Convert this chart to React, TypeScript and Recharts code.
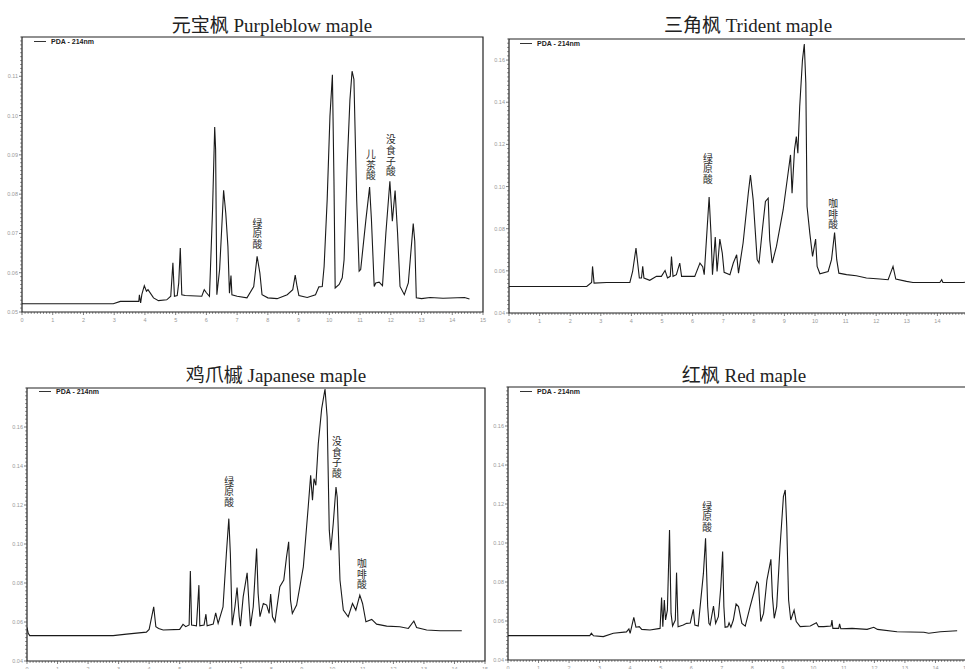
import { LineChart, Line, XAxis, YAxis, ReferenceArea, ReferenceDot, Legend } from "recharts";

// retention time (min), absorbance (AU)
const purpleblow = [
  [0, 0.0521], [2.97, 0.0521], [3.2, 0.0527], [3.8, 0.0527], [3.82, 0.0544], [3.86, 0.0523], [3.9, 0.0545],
  [3.98, 0.0567], [4.05, 0.0553], [4.1, 0.0557], [4.28, 0.0536], [4.44, 0.0529], [4.71, 0.0531], [4.84, 0.054],
  [4.91, 0.0625], [4.96, 0.054], [5.05, 0.0542], [5.1, 0.0574], [5.15, 0.0663], [5.2, 0.0544], [5.31, 0.0542],
  [5.85, 0.054], [5.93, 0.0557], [6.0, 0.0549], [6.1, 0.054], [6.2, 0.076], [6.27, 0.0971], [6.3, 0.0913],
  [6.34, 0.0544], [6.43, 0.0608], [6.49, 0.07], [6.56, 0.081], [6.63, 0.0752], [6.7, 0.0667], [6.75, 0.0548],
  [6.8, 0.0593], [6.83, 0.0544], [7.0, 0.054], [7.32, 0.0536], [7.54, 0.0565], [7.65, 0.0642], [7.74, 0.0599],
  [7.81, 0.0544], [8.0, 0.0536], [8.3, 0.0534], [8.63, 0.0544], [8.81, 0.0557], [8.89, 0.0594], [8.95, 0.0565],
  [9.01, 0.0542], [9.28, 0.0537], [9.55, 0.0544], [9.66, 0.0564], [9.77, 0.0565], [9.83, 0.0616], [9.93, 0.0786],
  [10.02, 0.0998], [10.1, 0.1104], [10.15, 0.0837], [10.19, 0.0561], [10.32, 0.057], [10.42, 0.0587],
  [10.48, 0.0633], [10.58, 0.0871], [10.67, 0.104], [10.74, 0.1113], [10.8, 0.1092], [10.89, 0.0786],
  [10.97, 0.0604], [11.02, 0.0608], [11.19, 0.0735], [11.31, 0.0818], [11.37, 0.0735], [11.46, 0.0565],
  [11.51, 0.0574], [11.62, 0.0576], [11.73, 0.0567], [11.84, 0.0701], [11.97, 0.0833], [12.05, 0.0731],
  [12.14, 0.0809], [12.22, 0.0701], [12.3, 0.0565], [12.44, 0.0544], [12.57, 0.0574], [12.73, 0.0725],
  [12.78, 0.068], [12.83, 0.0536], [13.0, 0.0534], [13.28, 0.0537], [13.7, 0.0535], [14.4, 0.0537], [14.56, 0.0533],
];

const trident = [
  [0, 0.0526], [2.54, 0.0526], [2.7, 0.0545], [2.73, 0.0621], [2.78, 0.0542], [3.19, 0.0545], [3.95, 0.0545],
  [4.04, 0.0597], [4.15, 0.0708], [4.26, 0.0566], [4.33, 0.0566], [4.37, 0.0621], [4.41, 0.0566], [4.6, 0.0555],
  [4.82, 0.0574], [4.98, 0.0574], [5.1, 0.0602], [5.18, 0.0566], [5.27, 0.0574], [5.31, 0.0668], [5.36, 0.0574],
  [5.47, 0.0582], [5.58, 0.0637], [5.64, 0.0574], [5.91, 0.0574], [6.07, 0.0574], [6.24, 0.0637], [6.33, 0.062],
  [6.38, 0.0582], [6.54, 0.095], [6.6, 0.0779], [6.65, 0.0582], [6.74, 0.076], [6.8, 0.0597], [6.89, 0.0751],
  [6.97, 0.0684], [7.03, 0.0593], [7.22, 0.0582], [7.33, 0.0637], [7.44, 0.0676], [7.5, 0.0589], [7.65, 0.0732],
  [7.82, 0.0968], [7.89, 0.1055], [7.98, 0.0937], [8.11, 0.0653], [8.17, 0.0637], [8.28, 0.0795], [8.38, 0.0929],
  [8.47, 0.0945], [8.52, 0.0747], [8.6, 0.0637], [8.74, 0.0716], [8.96, 0.089], [9.12, 0.1063], [9.2, 0.115],
  [9.25, 0.0968], [9.33, 0.1174], [9.39, 0.1237], [9.44, 0.1158], [9.5, 0.1379], [9.59, 0.16], [9.65, 0.1676],
  [9.7, 0.149], [9.74, 0.0905], [9.83, 0.0779], [9.92, 0.0668], [10.02, 0.0751], [10.07, 0.0621], [10.16, 0.0586],
  [10.43, 0.0597], [10.54, 0.0653], [10.64, 0.0782], [10.71, 0.0653], [10.78, 0.0589], [11.03, 0.0582],
  [11.35, 0.0577], [11.68, 0.0566], [12.12, 0.0561], [12.39, 0.0558], [12.55, 0.0621], [12.64, 0.0561],
  [12.99, 0.055], [13.2, 0.0545], [14.08, 0.0545], [14.14, 0.0558], [14.18, 0.0545], [14.84, 0.0545], [15, 0.0548],
];

const japanese = [
  [0, 0.0572], [0.04, 0.0542], [0.09, 0.053], [2.82, 0.053], [3.26, 0.0538], [3.91, 0.0548], [4.0, 0.0562],
  [4.15, 0.0678], [4.22, 0.0576], [4.31, 0.0567], [4.46, 0.0559], [5.0, 0.0562], [5.11, 0.0588], [5.2, 0.0576],
  [5.31, 0.0585], [5.35, 0.0862], [5.39, 0.0585], [5.55, 0.058], [5.63, 0.0789], [5.66, 0.058], [5.8, 0.0585],
  [5.86, 0.064], [5.9, 0.058], [6.1, 0.0589], [6.18, 0.0647], [6.26, 0.0593], [6.42, 0.0678], [6.53, 0.0951],
  [6.61, 0.113], [6.66, 0.0951], [6.72, 0.0584], [6.81, 0.0678], [6.88, 0.0777], [6.95, 0.0627], [6.99, 0.0579],
  [7.08, 0.0729], [7.21, 0.0852], [7.27, 0.0695], [7.32, 0.0579], [7.41, 0.0678], [7.52, 0.0977], [7.57, 0.0746],
  [7.63, 0.0627], [7.74, 0.0695], [7.85, 0.0687], [7.93, 0.0644], [7.98, 0.0743], [8.04, 0.0627], [8.12, 0.0601],
  [8.28, 0.0781], [8.41, 0.0815], [8.5, 0.0934], [8.57, 0.1011], [8.63, 0.0712], [8.69, 0.0644], [8.83, 0.0687],
  [9.05, 0.0883], [9.21, 0.119], [9.29, 0.1352], [9.35, 0.1224], [9.4, 0.1335], [9.46, 0.1301], [9.54, 0.1514],
  [9.65, 0.1693], [9.76, 0.1795], [9.83, 0.1651], [9.9, 0.1071], [9.95, 0.0968], [10.03, 0.1105], [10.12, 0.1292],
  [10.16, 0.124], [10.25, 0.0815], [10.36, 0.0661], [10.52, 0.0627], [10.66, 0.0695], [10.77, 0.0661],
  [10.9, 0.0738], [10.99, 0.0695], [11.1, 0.0601], [11.29, 0.0613], [11.45, 0.0589], [11.78, 0.0579],
  [12.21, 0.0576], [12.49, 0.0567], [12.67, 0.0605], [12.76, 0.0572], [13.09, 0.0559], [13.53, 0.0555], [14.24, 0.0555],
];

const red = [
  [0, 0.0525], [2.68, 0.0525], [2.73, 0.0537], [2.8, 0.0524], [3.12, 0.052], [3.45, 0.0537], [3.88, 0.0544],
  [3.96, 0.0559], [4.0, 0.0537], [4.12, 0.0619], [4.19, 0.0568], [4.3, 0.0571], [4.38, 0.0557], [4.65, 0.0554],
  [4.98, 0.0562], [5.03, 0.0721], [5.07, 0.0571], [5.12, 0.0708], [5.16, 0.0605], [5.22, 0.0656], [5.29, 0.1067],
  [5.34, 0.0639], [5.39, 0.0574], [5.48, 0.0605], [5.52, 0.0848], [5.57, 0.0571], [5.74, 0.0579], [5.85, 0.0588],
  [5.97, 0.059], [6.07, 0.066], [6.12, 0.0579], [6.23, 0.0574], [6.4, 0.0844], [6.47, 0.1024], [6.54, 0.0674],
  [6.58, 0.0588], [6.62, 0.0579], [6.73, 0.0677], [6.8, 0.0588], [6.89, 0.0622], [6.97, 0.0776], [7.03, 0.0956],
  [7.07, 0.0674], [7.11, 0.0568], [7.2, 0.0571], [7.24, 0.0591], [7.3, 0.0568], [7.38, 0.0605], [7.47, 0.0687],
  [7.55, 0.0674], [7.66, 0.0588], [7.77, 0.0574], [7.93, 0.0674], [8.06, 0.075], [8.15, 0.0802], [8.2, 0.0793],
  [8.28, 0.0597], [8.37, 0.0639], [8.48, 0.081], [8.61, 0.0916], [8.66, 0.0725], [8.72, 0.0614], [8.8, 0.0674],
  [8.91, 0.0981], [9.02, 0.1238], [9.08, 0.1272], [9.13, 0.1084], [9.19, 0.0708], [9.26, 0.0605], [9.37, 0.0656],
  [9.44, 0.0597], [9.57, 0.0571], [9.9, 0.0574], [10.1, 0.0591], [10.17, 0.0571], [10.34, 0.0571], [10.58, 0.0574],
  [10.61, 0.0605], [10.64, 0.0562], [10.83, 0.0562], [10.86, 0.0585], [10.9, 0.056], [11.27, 0.0562],
  [11.76, 0.0557], [11.98, 0.0568], [12.1, 0.0557], [12.74, 0.0545], [13.62, 0.0542], [13.78, 0.0537],
  [14.16, 0.0545], [14.71, 0.055],
];

const xMajor = [0, 1, 2, 3, 4, 5, 6, 7, 8, 9, 10, 11, 12, 13, 14, 15];
const yMajorPurple = [0.05, 0.06, 0.07, 0.08, 0.09, 0.1, 0.11];
const yMajorOther = [0.04, 0.06, 0.08, 0.1, 0.12, 0.14, 0.16];

// compound labels: [text, time, value at top of the label]
const purpleLabels: [string, number, number][] = [["绿原酸", 7.66, 0.0742], ["儿茶酸", 11.35, 0.0917], ["没食子酸", 12.0, 0.0955]];
const tridentLabels: [string, number, number][] = [["绿原酸", 6.5, 0.1164], ["咖啡酸", 10.59, 0.095]];
const japaneseLabels: [string, number, number][] = [["绿原酸", 6.62, 0.1354], ["没食子酸", 10.15, 0.1559], ["咖啡酸", 10.97, 0.0933]];
const redLabels: [string, number, number][] = [["绿原酸", 6.52, 0.1221]];

const steps = (lo: number, hi: number, step: number) =>
  Array.from({ length: Math.round((hi - lo) / step) + 1 }, (_, i) => +(lo + i * step).toFixed(4));

const isMajor = (list: number[], v: number) => list.some((m) => Math.abs(m - v) < 1e-7);

const XTick = (props: any) => {
  const { x, y, payload, majors } = props;
  const major = isMajor(majors, payload.value);
  return (
    <g>
      <line x1={x} x2={x} y1={y} y2={y + (major ? 3 : 1.8)} stroke="#444" strokeWidth={0.7} />
      {major && (
        <text x={x} y={y + 10} textAnchor="middle" fontSize={5.5} fill="#999" fontFamily="Liberation Sans">
          {payload.value}
        </text>
      )}
    </g>
  );
};

const YTick = (props: any) => {
  const { x, y, payload, majors } = props;
  const major = isMajor(majors, payload.value);
  return (
    <g>
      <line x1={x - (major ? 3 : 1.8)} x2={x} y1={y} y2={y} stroke="#444" strokeWidth={0.7} />
      {major && (
        <text x={x - 4} y={y + 2} textAnchor="end" fontSize={5.5} fill="#999" fontFamily="Liberation Sans">
          {payload.value.toFixed(2)}
        </text>
      )}
    </g>
  );
};

const VText = (props: any) => {
  const { cx, cy, text } = props;
  return (
    <g>
      {Array.from(text as string).map((c, i) => (
        <text key={i} x={cx} y={cy + (i + 0.9) * 10.8} textAnchor="middle" fontSize={9.8}
          fill="#2a2a2a" fontFamily="'Noto Sans CJK SC', sans-serif">
          {c}
        </text>
      ))}
    </g>
  );
};

const LegendBox = () => (
  <div style={{ display: "flex", alignItems: "center", fontFamily: "'Liberation Sans', Arial", fontSize: 7, fontWeight: "bold", color: "#222", whiteSpace: "nowrap" }}>
    <span style={{ display: "inline-block", width: 12, height: 1, background: "#333", marginRight: 5 }} />
    PDA - 214nm
  </div>
);

interface PanelProps {
  title: string;
  data: number[][];
  yDomain: [number, number];
  yMajors: number[];
  yStep: number;
  labels: [string, number, number][];
  box: { left: number; top: number; width: number; height: number; mt: number; mr: number };
  titlePos: [number, number];
  legendPos: [number, number];
}

function Panel({ title, data, yDomain, yMajors, yStep, labels, box, titlePos, legendPos }: PanelProps) {
  const rows = data.map(([t, v]) => ({ t, v }));
  return (
    <>
      <div style={{ position: "absolute", left: titlePos[0], top: titlePos[1], transform: "translate(-50%, -50%)", whiteSpace: "nowrap", fontFamily: "'Liberation Serif', 'Noto Sans CJK SC', serif", fontSize: 19, color: "#222" }}>
        {title}
      </div>
      <div style={{ position: "absolute", left: box.left, top: box.top }}>
        <LineChart width={box.width} height={box.height} data={rows} margin={{ top: box.mt, right: box.mr, left: 0, bottom: 0 }}>
          <XAxis type="number" dataKey="t" domain={[0, 15]} ticks={steps(0, 15, 0.1)} interval={0}
            allowDataOverflow axisLine={false} tickLine={false} tickSize={0} tickMargin={0} height={18}
            tick={(p: any) => <XTick {...p} majors={xMajor} />} />
          <YAxis type="number" domain={yDomain} ticks={steps(yDomain[0], yDomain[1], yStep)} interval={0}
            allowDataOverflow axisLine={false} tickLine={false} tickSize={0} tickMargin={0} width={22}
            tick={(p: any) => <YTick {...p} majors={yMajors} />} />
          <ReferenceArea x1={0} x2={15} y1={yDomain[0]} y2={yDomain[1]} fill="none" stroke="#222" strokeWidth={1.2} ifOverflow="visible" />
          <Legend layout="vertical" align="center" verticalAlign="middle" content={() => <LegendBox />}
            wrapperStyle={{ top: legendPos[1], left: legendPos[0], width: "auto", height: "auto" }} />
          <Line type="linear" dataKey="v" name="PDA - 214nm" stroke="#1a1a1a" strokeWidth={1.1} dot={false} isAnimationActive={false} />
          {labels.map(([text, t, v]) => (
            <ReferenceDot key={text + t} x={t} y={v} r={0} ifOverflow="visible"
              shape={(p: any) => <VText cx={p.cx} cy={p.cy} text={text} />} />
          ))}
        </LineChart>
      </div>
    </>
  );
}

export default function App() {
  return (
    <div style={{ position: "absolute", left: 0, top: 0, width: 965, height: 669, overflow: "hidden", background: "#fff" }}>
      <Panel title="元宝枫 Purpleblow maple" data={purpleblow} yDomain={[0.05, 0.12]} yMajors={yMajorPurple} yStep={0.001}
        labels={purpleLabels} box={{ left: 0, top: 0, width: 490, height: 330, mt: 37, mr: 7 }}
        titlePos={[272, 23]} legendPos={[34, 38]} />
      <Panel title="三角枫 Trident maple" data={trident} yDomain={[0.04, 0.17]} yMajors={yMajorOther} yStep={0.002}
        labels={tridentLabels} box={{ left: 487, top: 0, width: 490, height: 331, mt: 39, mr: 9 }}
        titlePos={[748, 23]} legendPos={[33, 40]} />
      <Panel title="鸡爪槭 Japanese maple" data={japanese} yDomain={[0.04, 0.18]} yMajors={yMajorOther} yStep={0.002}
        labels={japaneseLabels} box={{ left: 5, top: 350, width: 485, height: 329, mt: 38, mr: 5 }}
        titlePos={[276, 373]} legendPos={[34, 38]} />
      <Panel title="红枫 Red maple" data={red} yDomain={[0.04, 0.18]} yMajors={yMajorOther} yStep={0.002}
        labels={redLabels} box={{ left: 486, top: 350, width: 490, height: 328, mt: 37, mr: 10 }}
        titlePos={[744, 373]} legendPos={[34, 38]} />
    </div>
  );
}
